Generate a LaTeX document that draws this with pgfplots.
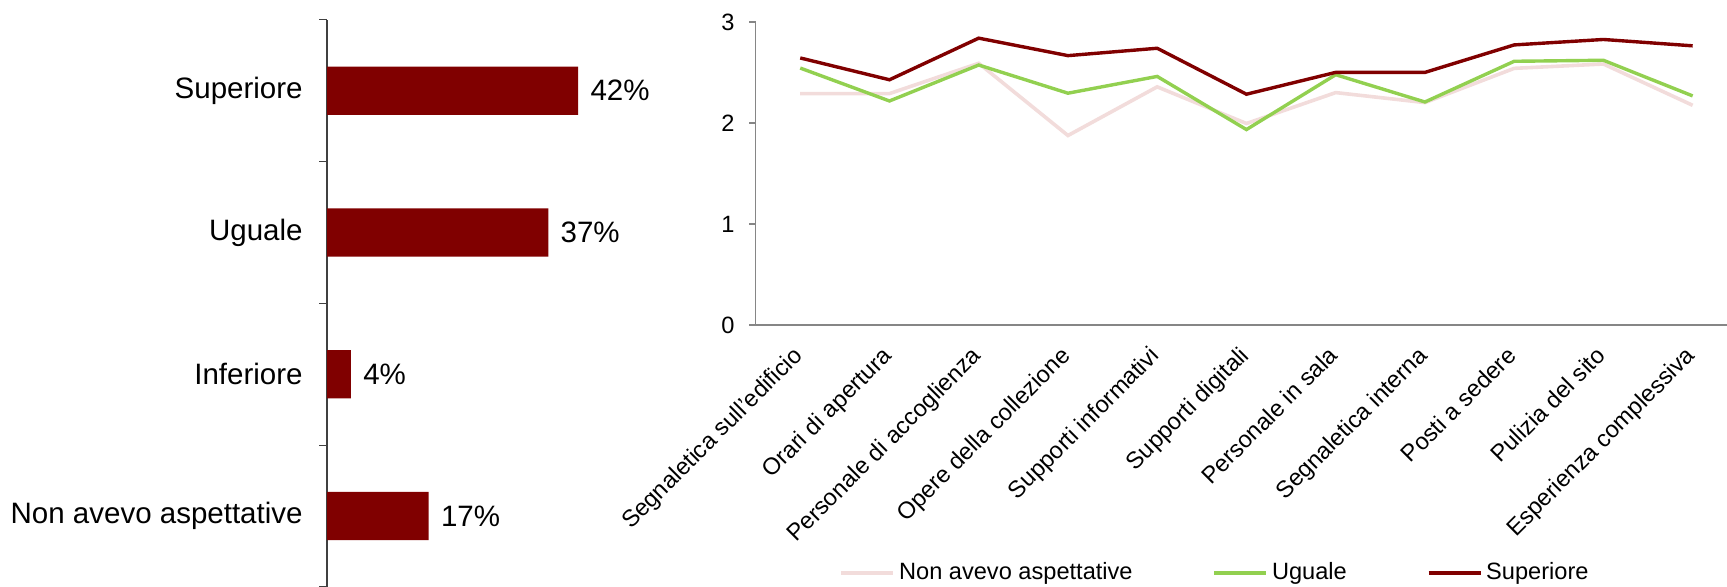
\documentclass[border=0pt]{standalone}
\usepackage{pgfplots}
\pgfplotsset{compat=1.18}
\usepackage{fontspec}
\setmainfont{Liberation Sans}
\definecolor{darkred}{RGB}{128,0,0}
\definecolor{lgreen}{RGB}{146,208,80}
\definecolor{lpink}{RGB}{242,220,219}
\definecolor{axgray}{RGB}{134,134,134}
\begin{document}
\begin{tikzpicture}
\useasboundingbox (0,0) rectangle (863.5pt,293.5pt);
% ---------------- bar chart ----------------
\begin{axis}[
  at={(163.5pt,0pt)}, anchor=south west,
  scale only axis, width=179.4pt, height=283.6pt,
  /pgf/number format/assume math mode=true,
  xbar, bar width=0.34,
  xmin=0, xmax=60, ymin=-0.5, ymax=3.5,
  axis x line=none, axis y line*=left,
  axis line style={-, color=black!75, line width=0.6pt},
  ytick={0,1,2,3},
  yticklabels={Non avevo aspettative, Inferiore, Uguale, Superiore},
  major tick length=0pt,
  minor ytick={-0.5,0.5,1.5,2.5,3.5},
  minor tick length=3.8pt, tick align=outside,
  minor tick style={color=black!75, line width=0.6pt},
  yticklabel style={font=\fontsize{14.75}{17}\selectfont, anchor=east, inner sep=0pt, xshift=-12pt},
  point meta=x,
  nodes near coords={\pgfmathprintnumber{\pgfplotspointmeta}\%},
  nodes near coords style={anchor=west, inner sep=0pt, xshift=6pt, font=\fontsize{14.75}{17}\selectfont},
]
\addplot[fill=darkred, draw=none] coordinates {(17,0) (4,1) (37,2) (42,3)};
\end{axis}
% ---------------- line chart ----------------
\begin{axis}[
  at={(377.8pt,131pt)}, anchor=south west,
  scale only axis, width=485.7pt, height=151.5pt,
  /pgf/number format/assume math mode=true,
  xmin=-0.5, xmax=10.385, ymin=0, ymax=3,
  axis x line*=bottom, axis y line*=left,
  x axis line style={-, color=axgray, line width=1.2pt},
  y axis line style={-, color=axgray, line width=0.6pt},
  ytick={0,1,2,3},
  xtick={0,...,10},
  xticklabels={Segnaletica sull'edificio, Orari di apertura, Personale di accoglienza, Opere della collezione, Supporti informativi, Supporti digitali, Personale in sala, Segnaletica interna, Posti a sedere, Pulizia del sito, Esperienza complessiva},
  tick align=outside,
  x tick style={draw=none},
  y tick style={color=axgray, line width=0.6pt},
  major tick length=3.3pt,
  minor xtick={-0.5,0.5,...,10.5},
  minor x tick style={color=axgray, line width=0.8pt},
  minor tick length=4pt,
  yticklabel style={font=\fontsize{11.8}{14}\selectfont, inner sep=0pt, xshift=-7pt},
  xticklabel style={font=\fontsize{11.8}{14}\selectfont, xshift=-4.3pt, yshift=-6.5pt, rotate=45, anchor=north east, inner sep=0pt},
  legend style={at={(0.474,-0.818)}, anchor=center, draw=none, fill=none, legend columns=3,
    font=\fontsize{11.8}{14}\selectfont,
    /tikz/every even column/.append style={column sep=38pt}},
  legend image code/.code={\draw[#1] (0pt,0pt) -- (26pt,0pt);},
]
\addplot[color=lpink, line width=1.8pt] coordinates {
(0,2.291) (1,2.291) (2,2.591) (3,1.876) (4,2.358) (5,1.995) (6,2.301) (7,2.202) (8,2.541) (9,2.584) (10,2.175)};
\addlegendentry{Non avevo aspettative}
\addplot[color=lgreen, line width=1.7pt] coordinates {
(0,2.544) (1,2.218) (2,2.574) (3,2.295) (4,2.461) (5,1.935) (6,2.478) (7,2.208) (8,2.611) (9,2.621) (10,2.268)};
\addlegendentry{Uguale}
\addplot[color=darkred, line width=1.7pt] coordinates {
(0,2.644) (1,2.428) (2,2.840) (3,2.667) (4,2.740) (5,2.285) (6,2.501) (7,2.501) (8,2.773) (9,2.827) (10,2.764)};
\addlegendentry{Superiore}
\end{axis}
\end{tikzpicture}
\end{document}
